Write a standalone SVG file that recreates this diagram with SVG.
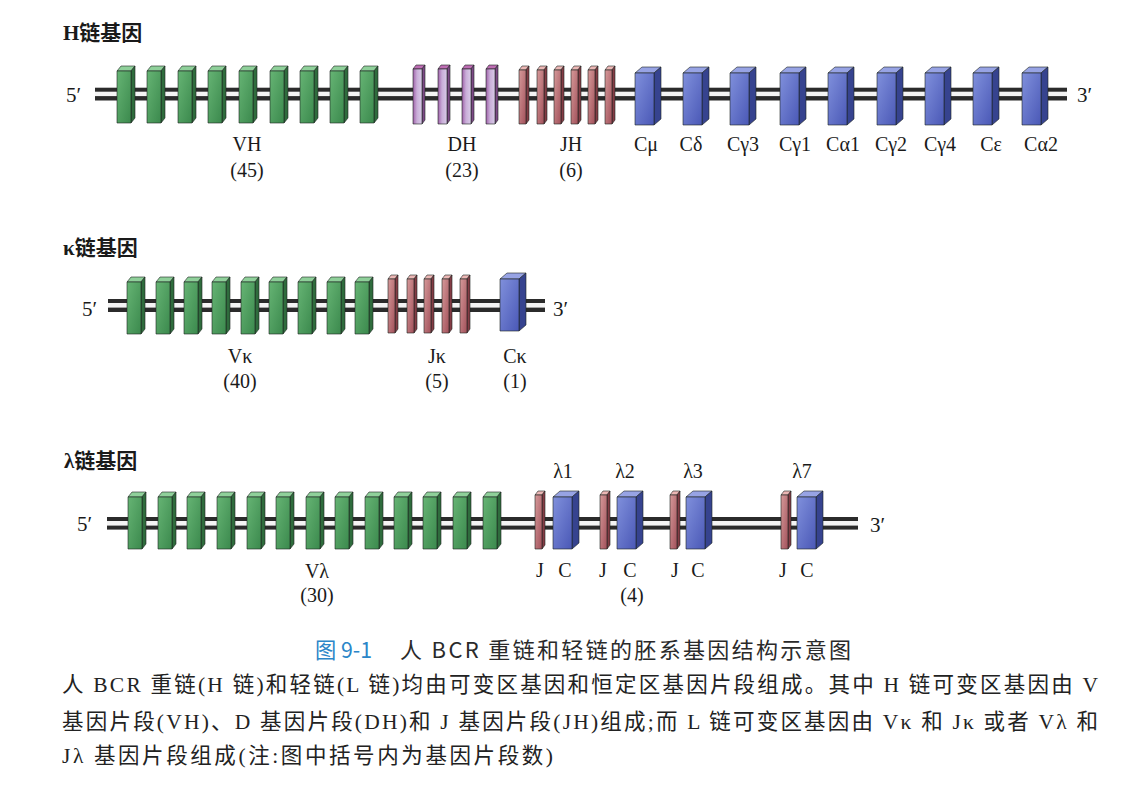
<svg xmlns="http://www.w3.org/2000/svg" xmlns:xlink="http://www.w3.org/1999/xlink" width="1128" height="810" viewBox="0 0 1128 810">
<style>
.lbl{font-family:"Liberation Serif","Noto Sans CJK SC",serif;font-size:20px;fill:#1a1a1a;text-anchor:middle}
.end{font-family:"Liberation Serif",serif;font-size:21px;fill:#1a1a1a}
.title{font-family:"Liberation Serif","Noto Sans CJK SC",serif;font-size:21px;font-weight:bold;fill:#1a1a1a}
.cap{font-family:"Noto Sans CJK SC","Liberation Sans",sans-serif;font-size:22px;fill:#2a2a2a}
.para{font-family:"Liberation Serif","Noto Sans CJK SC",serif;font-size:21.5px;fill:#222}
.dk{fill:#2b2b2b}
.wt{fill:#f4f4f4}
.blk polygon,.blk rect{stroke:#1d2420;stroke-width:0.6;stroke-linejoin:round}
</style>
<defs>
<linearGradient id="gF" x1="0" y1="0" x2="1" y2="1"><stop offset="0" stop-color="#66b474"/><stop offset="1" stop-color="#3b894d"/></linearGradient>
<linearGradient id="pF" x1="0" y1="0" x2="1" y2="0"><stop offset="0" stop-color="#a062aa"/><stop offset="0.45" stop-color="#c9aed8"/><stop offset="1" stop-color="#d9cbe8"/></linearGradient>
<linearGradient id="rF" x1="0" y1="0" x2="1" y2="1"><stop offset="0" stop-color="#d69a9a"/><stop offset="1" stop-color="#a2505a"/></linearGradient>
<linearGradient id="bF" x1="0" y1="0" x2="1" y2="1"><stop offset="0" stop-color="#8090dc"/><stop offset="1" stop-color="#4a58b6"/></linearGradient>
<g id="bG" class="blk"><polygon points="0,5 4,0 18,0 14,5" fill="#8fd09a"/><polygon points="14,5 18,0 18,52 14,57" fill="#2f6c3d"/><rect x="0" y="5" width="14" height="52" fill="url(#gF)"/></g>
<g id="bP" class="blk"><polygon points="0,4 3,0 12,0 9,4" fill="#bd6db3"/><polygon points="9,4 12,0 12,55 9,59" fill="#7d4a86"/><rect x="0" y="4" width="9" height="55" fill="url(#pF)"/></g>
<g id="bR" class="blk"><polygon points="0,4 3,0 10,0 7,4" fill="#ebb7b5"/><polygon points="7,4 10,0 10,54 7,58" fill="#843c45"/><rect x="0" y="4" width="7" height="54" fill="url(#rF)"/></g>
<g id="bB" class="blk"><polygon points="0,6 7,0 26,0 19,6" fill="#97a3e4"/><polygon points="19,6 26,0 26,52 19,58" fill="#36438f"/><rect x="0" y="6" width="19" height="52" fill="url(#bF)"/></g>
</defs>
<rect width="1128" height="810" fill="#ffffff"/>

<g id="connectors">
<g id="dna-H"><rect class="dk" x="95" y="87.7" width="972" height="12.8"/><rect class="wt" x="95" y="91.7" width="972" height="4.4"/></g>
<g id="dna-K"><rect class="dk" x="108" y="299" width="437" height="13"/><rect class="wt" x="108" y="303" width="437" height="4.6"/></g>
<g id="dna-L"><rect class="dk" x="107" y="517" width="751" height="12.6"/><rect class="wt" x="107" y="521" width="751" height="4.6"/></g>
</g>

<g id="H-chain">
<text class="title" x="63" y="40">H链基因</text>
<text class="end" x="66" y="102">5′</text>
<text class="end" x="1077" y="102">3′</text>
<g id="H-VH">
<use href="#bG" x="117" y="66"/><use href="#bG" x="147" y="66"/><use href="#bG" x="178" y="66"/><use href="#bG" x="208" y="66"/><use href="#bG" x="239" y="66"/><use href="#bG" x="270" y="66"/><use href="#bG" x="300" y="66"/><use href="#bG" x="330" y="66"/><use href="#bG" x="360" y="66"/>
<text class="lbl" x="247" y="151">VH</text><text class="lbl" x="247" y="177">(45)</text>
</g>
<g id="H-DH">
<use href="#bP" x="413" y="65"/><use href="#bP" x="438" y="65"/><use href="#bP" x="462" y="65"/><use href="#bP" x="486" y="65"/>
<text class="lbl" x="462" y="151">DH</text><text class="lbl" x="462" y="177">(23)</text>
</g>
<g id="H-JH">
<use href="#bR" x="519" y="66"/><use href="#bR" x="537" y="66"/><use href="#bR" x="554" y="66"/><use href="#bR" x="571" y="66"/><use href="#bR" x="588" y="66"/><use href="#bR" x="605" y="66"/>
<text class="lbl" x="571" y="151">JH</text><text class="lbl" x="571" y="177">(6)</text>
</g>
<g id="H-Cmu"><use href="#bB" x="635" y="67"/><text class="lbl" x="646" y="151">Cμ</text></g>
<g id="H-Cdelta"><use href="#bB" x="683" y="67"/><text class="lbl" x="691" y="151">Cδ</text></g>
<g id="H-Cg3"><use href="#bB" x="730" y="67"/><text class="lbl" x="743" y="151">Cγ3</text></g>
<g id="H-Cg1"><use href="#bB" x="780" y="67"/><text class="lbl" x="795" y="151">Cγ1</text></g>
<g id="H-Ca1"><use href="#bB" x="828" y="67"/><text class="lbl" x="843" y="151">Cα1</text></g>
<g id="H-Cg2"><use href="#bB" x="877" y="67"/><text class="lbl" x="891" y="151">Cγ2</text></g>
<g id="H-Cg4"><use href="#bB" x="925" y="67"/><text class="lbl" x="940" y="151">Cγ4</text></g>
<g id="H-Ce"><use href="#bB" x="973" y="67"/><text class="lbl" x="991" y="151">Cε</text></g>
<g id="H-Ca2"><use href="#bB" x="1022" y="67"/><text class="lbl" x="1041" y="151">Cα2</text></g>
</g>

<g id="K-chain">
<text class="title" x="63" y="255">κ链基因</text>
<text class="end" x="82" y="316">5′</text>
<text class="end" x="553" y="316">3′</text>
<g id="K-V">
<use href="#bG" x="127" y="277"/><use href="#bG" x="156" y="277"/><use href="#bG" x="184" y="277"/><use href="#bG" x="212" y="277"/><use href="#bG" x="241" y="277"/><use href="#bG" x="269" y="277"/><use href="#bG" x="298" y="277"/><use href="#bG" x="327" y="277"/><use href="#bG" x="355" y="277"/>
<text class="lbl" x="240" y="363">Vκ</text><text class="lbl" x="240" y="388">(40)</text>
</g>
<g id="K-J">
<use href="#bR" x="388" y="275"/><use href="#bR" x="407" y="275"/><use href="#bR" x="424" y="275"/><use href="#bR" x="442" y="275"/><use href="#bR" x="460" y="275"/>
<text class="lbl" x="437" y="363">Jκ</text><text class="lbl" x="437" y="388">(5)</text>
</g>
<g id="K-C">
<use href="#bB" x="500" y="273"/>
<text class="lbl" x="515" y="363">Cκ</text><text class="lbl" x="515" y="388">(1)</text>
</g>
</g>

<g id="L-chain">
<text class="title" x="64" y="468">λ链基因</text>
<text class="end" x="77" y="531">5′</text>
<text class="end" x="870" y="532">3′</text>
<g id="L-V">
<use href="#bG" x="128" y="492"/><use href="#bG" x="158" y="492"/><use href="#bG" x="187" y="492"/><use href="#bG" x="217" y="492"/><use href="#bG" x="247" y="492"/><use href="#bG" x="276" y="492"/><use href="#bG" x="306" y="492"/><use href="#bG" x="335" y="492"/><use href="#bG" x="365" y="492"/><use href="#bG" x="394" y="492"/><use href="#bG" x="423" y="492"/><use href="#bG" x="453" y="492"/><use href="#bG" x="483" y="492"/>
<text class="lbl" x="317" y="578">Vλ</text><text class="lbl" x="317" y="602">(30)</text>
</g>
<g id="L-1"><use href="#bR" x="535" y="491"/><use href="#bB" x="553" y="491"/><text class="lbl" x="563" y="478">λ1</text><text class="lbl" x="540" y="577">J</text><text class="lbl" x="565" y="577">C</text></g>
<g id="L-2"><use href="#bR" x="600" y="491"/><use href="#bB" x="617" y="491"/><text class="lbl" x="625" y="478">λ2</text><text class="lbl" x="603" y="577">J</text><text class="lbl" x="630" y="577">C</text></g>
<g id="L-3"><use href="#bR" x="670" y="491"/><use href="#bB" x="686" y="491"/><text class="lbl" x="693" y="478">λ3</text><text class="lbl" x="675" y="577">J</text><text class="lbl" x="698" y="577">C</text></g>
<g id="L-7"><use href="#bR" x="781" y="491"/><use href="#bB" x="797" y="491"/><text class="lbl" x="802" y="478">λ7</text><text class="lbl" x="783" y="577">J</text><text class="lbl" x="807" y="577">C</text></g>
<text class="lbl" x="632" y="602">(4)</text>
</g>

<g id="caption">
<text class="cap" x="315" y="658" style="fill:#2b86c8" textLength="57" lengthAdjust="spacingAndGlyphs">图 9-1</text>
<text class="cap" x="400" y="658" textLength="451" lengthAdjust="spacing">人 BCR 重链和轻链的胚系基因结构示意图</text>
<text class="para" x="62" y="692" textLength="1036" lengthAdjust="spacing">人 BCR 重链(H 链)和轻链(L 链)均由可变区基因和恒定区基因片段组成。其中 H 链可变区基因由 V</text>
<text class="para" x="62" y="729" textLength="1036" lengthAdjust="spacing">基因片段(VH)、D 基因片段(DH)和 J 基因片段(JH)组成;而 L 链可变区基因由 Vκ 和 Jκ 或者 Vλ 和</text>
<text class="para" x="62" y="763" textLength="491" lengthAdjust="spacing">Jλ 基因片段组成(注:图中括号内为基因片段数)</text>
</g>
</svg>
